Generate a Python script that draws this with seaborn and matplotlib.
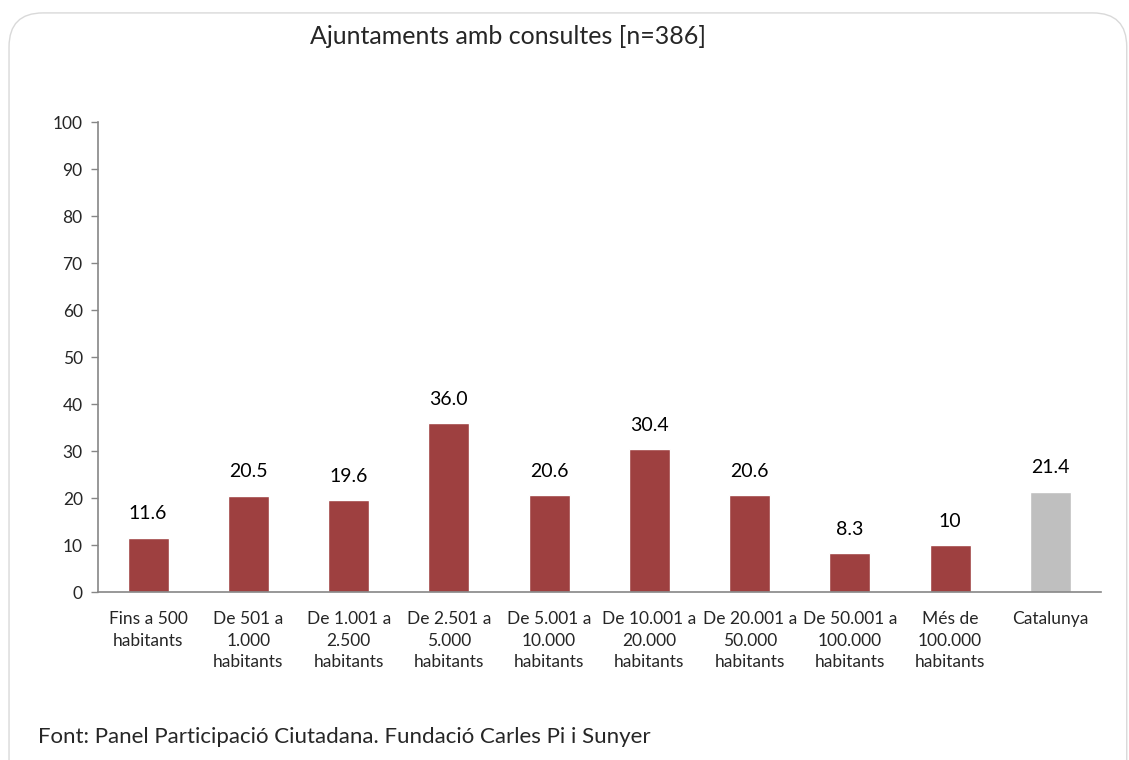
import matplotlib
matplotlib.use("Agg")
import matplotlib.pyplot as plt
import seaborn as sns
from matplotlib.patches import FancyBboxPatch

# data
categories = [
    "Fins a 500\nhabitants",
    "De 501 a\n1.000\nhabitants",
    "De 1.001 a\n2.500\nhabitants",
    "De 2.501 a\n5.000\nhabitants",
    "De 5.001 a\n10.000\nhabitants",
    "De 10.001 a\n20.000\nhabitants",
    "De 20.001 a\n50.000\nhabitants",
    "De 50.001 a\n100.000\nhabitants",
    "Més de\n100.000\nhabitants",
    "Catalunya",
]
values = [11.6, 20.5, 19.6, 36.0, 20.6, 30.4, 20.6, 8.3, 10, 21.4]
value_labels = ["11.6", "20.5", "19.6", "36.0", "20.6", "30.4", "20.6", "8.3", "10", "21.4"]
bar_colors = ["#9E4040"] * 9 + ["#BFBFBF"]
y_ticks = list(range(0, 101, 10))

sns.set_style("white")
plt.rcParams["font.family"] = ["Lato", "DejaVu Sans"]

fig = plt.figure(figsize=(11.29, 7.6), dpi=100)
ax = fig.add_axes([0.0868, 0.221, 0.888, 0.618])

# rounded frame round the chart
frame = FancyBboxPatch((0.008, -0.05), 0.99, 1.033, boxstyle="round,pad=0,rounding_size=0.03",
                       transform=fig.transFigure, facecolor="none", edgecolor="#D9D9D9",
                       linewidth=1.0, mutation_aspect=1129 / 760)
fig.patches.append(frame)

sns.barplot(x=categories, y=values, hue=categories, palette=bar_colors, legend=False,
            width=0.41, saturation=1, ax=ax)

for i, (v, lab) in enumerate(zip(values, value_labels)):
    ax.annotate(lab, (i, v), xytext=(0, 11), textcoords="offset points",
                ha="center", va="bottom", fontsize=14, color="#000000")

ax.set_ylim(0, 100)
ax.set_xlim(-0.5, len(categories) - 0.5)
ax.set_yticks(y_ticks)
ax.tick_params(axis="y", left=True, length=5, width=1, color="#868686", labelsize=12.5, pad=6)
ax.tick_params(axis="x", bottom=False, labelsize=12.5, pad=10)
for lab in ax.get_xticklabels():
    lab.set_linespacing(1.45)
ax.set_xlabel("")
ax.set_ylabel("")
for side in ["top", "right"]:
    ax.spines[side].set_visible(False)
for side in ["left", "bottom"]:
    ax.spines[side].set_color("#868686")
    ax.spines[side].set_linewidth(1.2)

fig.text(0.45, 0.952, "Ajuntaments amb consultes [n=386]", ha="center", va="center", fontsize=18)
fig.text(0.034, 0.03, "Font: Panel Participació Ciutadana. Fundació Carles Pi i Sunyer",
         ha="left", va="center", fontsize=16)

fig.savefig("out.png", dpi=100)
